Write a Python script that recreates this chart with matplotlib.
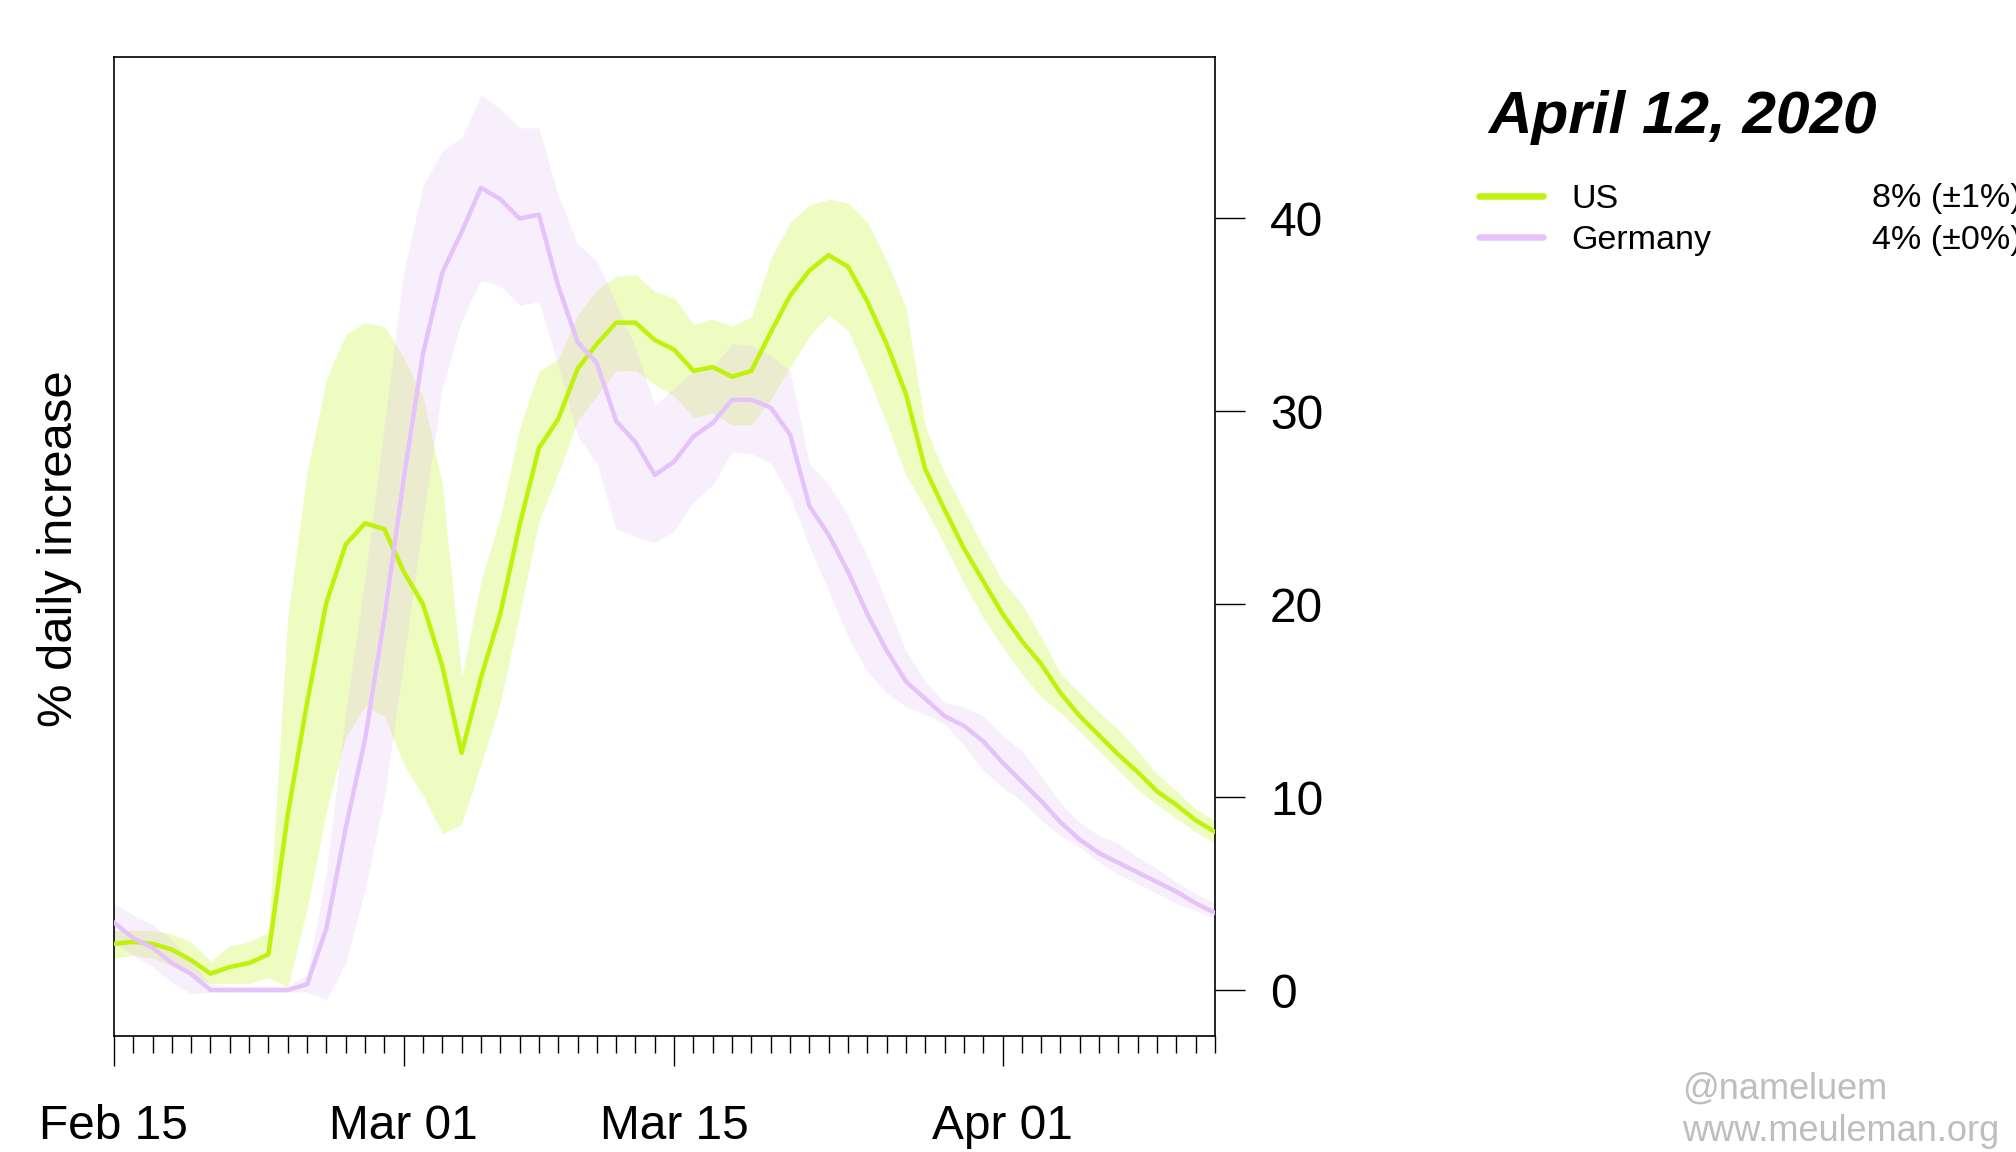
import numpy as np
import pandas as pd
import matplotlib
matplotlib.use('Agg')
import matplotlib.pyplot as plt
import matplotlib.dates as mdates
from matplotlib.lines import Line2D

plt.rcParams['font.family'] = ['Liberation Sans', 'DejaVu Sans']

# days from Feb 15 to Apr 12, 2020
dates = pd.date_range('2020-02-15', '2020-04-12', freq='D')

# US: % daily increase (line) and band
us = [2.4, 2.5, 2.4, 2.1, 1.55, 0.85, 1.2, 1.4, 1.85, 9.1,
      14.9, 20.1, 23.1, 24.2, 23.9, 21.7, 20.0, 16.8, 12.3, 16.2,
      19.5, 24.1, 28.1, 29.6, 32.2, 33.5, 34.6, 34.6, 33.7, 33.2,
      32.1, 32.3, 31.8, 32.1, 34.1, 36.0, 37.3, 38.1, 37.5, 35.7,
      33.5, 30.9, 27.0, 24.9, 22.9, 21.2, 19.5, 18.1, 16.9, 15.4,
      14.2, 13.2, 12.2, 11.3, 10.3, 9.6, 8.8, 8.2]
us_hi = [3.1, 3.1, 3.1, 2.9, 2.5, 1.5, 2.3, 2.5, 3.0, 19.3,
         26.8, 31.7, 34.0, 34.6, 34.4, 32.8, 30.8, 26.2, 16.2, 21.2,
         24.5, 29.1, 32.1, 32.7, 35.0, 36.3, 37.0, 37.1, 36.2, 35.9,
         34.5, 34.8, 34.4, 34.9, 37.9, 39.8, 40.7, 41.0, 40.8, 39.8,
         37.8, 35.4, 29.2, 26.8, 24.9, 23.0, 21.2, 20.0, 18.3, 16.4,
         15.4, 14.4, 13.5, 12.4, 11.2, 10.3, 9.4, 8.8]
us_lo = [1.65, 1.8, 1.65, 1.25, 0.76, 0.33, 0.33, 0.33, 0.66, 0.17,
         4.2, 9.3, 13.1, 14.7, 14.2, 11.7, 10.1, 8.1, 8.6, 11.7,
         14.9, 19.5, 24.3, 26.8, 29.5, 30.8, 32.1, 32.1, 31.4, 30.8,
         29.7, 29.9, 29.3, 29.3, 30.6, 32.3, 33.9, 35.0, 34.2, 31.9,
         29.4, 26.7, 25.0, 23.1, 21.1, 19.3, 17.8, 16.4, 15.2, 14.4,
         13.4, 12.4, 11.4, 10.4, 9.6, 8.9, 8.2, 7.6]

# Germany
de = [3.5, 2.7, 2.2, 1.4, 0.83, 0.0, 0.0, 0.0, 0.0, 0.0,
      0.3, 3.2, 8.4, 13.0, 19.3, 26.5, 33.0, 37.2, 39.3, 41.6,
      41.0, 40.0, 40.2, 36.5, 33.6, 32.5, 29.5, 28.4, 26.7, 27.4,
      28.7, 29.4, 30.6, 30.6, 30.2, 28.8, 25.1, 23.6, 21.7, 19.5,
      17.6, 16.0, 15.1, 14.2, 13.7, 12.9, 11.8, 10.8, 9.8, 8.7,
      7.8, 7.1, 6.6, 6.1, 5.6, 5.1, 4.5, 4.0]
de_hi = [4.5, 3.9, 3.4, 2.6, 1.5, 0.3, 0.2, 0.2, 0.2, 0.2,
         0.8, 6.1, 14.5, 21.3, 29.3, 37.2, 41.7, 43.5, 44.2, 46.4,
         45.7, 44.7, 44.7, 41.2, 38.7, 37.8, 35.6, 33.3, 30.3, 31.2,
         32.1, 32.3, 33.5, 33.4, 32.9, 32.1, 27.3, 26.2, 24.6, 22.5,
         20.1, 17.6, 16.0, 14.9, 14.7, 14.2, 13.2, 12.4, 11.1, 9.7,
         8.7, 8.0, 7.6, 6.9, 6.3, 5.6, 5.0, 4.5]
de_lo = [2.5, 1.8, 1.2, 0.4, -0.2, -0.1, -0.1, -0.1, -0.1, -0.1,
         -0.1, -0.5, 1.4, 5.2, 10.0, 17.0, 24.4, 31.2, 34.7, 36.8,
         36.5, 35.5, 35.7, 32.4, 28.7, 27.3, 23.9, 23.5, 23.2, 23.8,
         25.3, 26.2, 27.9, 27.8, 27.3, 25.6, 23.0, 20.7, 18.3, 16.5,
         15.4, 14.7, 14.3, 13.8, 12.7, 11.4, 10.5, 9.8, 8.8, 8.0,
         7.4, 6.6, 6.0, 5.5, 5.0, 4.5, 4.1, 3.7]

major_dates = ['2020-02-15', '2020-03-01', '2020-03-15', '2020-04-01']
major_labels = ['Feb 15', 'Mar 01', 'Mar 15', 'Apr 01']
y_ticks = [0, 10, 20, 30, 40]
legend_title = 'April 12, 2020'
names = ['US', 'Germany']
latest = ['8% (\u00b11%)', '4% (\u00b10%)']

green = '#bef20a'
purple = '#e6c2fb'

fig = plt.figure(figsize=(20.16, 11.52), dpi=100)
ax = fig.add_axes([0.0565, 0.1007, 0.5462, 0.8498])

ax.fill_between(dates, us_lo, us_hi, color=green, alpha=0.25, lw=0, zorder=1)
ax.fill_between(dates, de_lo, de_hi, color=purple, alpha=0.25, lw=0, zorder=1)
ax.plot(dates, us, color=green, lw=3.2, zorder=3)
ax.plot(dates, de, color=purple, lw=3.2, zorder=3)

ax.set_xlim(dates[0], dates[-1])
ax.set_ylim(-2.38, 48.37)

ax.set_xticks(pd.to_datetime(major_dates))
ax.set_xticklabels(major_labels)
ax.xaxis.set_minor_locator(mdates.DayLocator())
ax.tick_params(axis='x', which='major', length=21.6, width=1, pad=27.5,
               labelsize=34.5, direction='out')
ax.tick_params(axis='x', which='minor', length=12.5, width=1, direction='out')

ax.yaxis.tick_right()
ax.set_yticks(y_ticks)
ax.tick_params(axis='y', length=21.6, width=1, pad=18, labelsize=34.5)

for s in ax.spines.values():
    s.set_linewidth(1.2)

fig.text(60 / 2016, 1 - 549 / 1152, '% daily increase', rotation=90,
         ha='center', va='center', fontsize=35.3)

# legend
fig.text(1488 / 2016, 1 - 132.7 / 1152, legend_title, fontsize=43.4,
         fontweight='bold', fontstyle='italic', va='baseline')
for i, (nm, val, col) in enumerate(zip(names, latest, [green, purple])):
    yl = 1 - (196 + 41 * i) / 1152
    fig.add_artist(Line2D([1479 / 2016, 1543 / 2016], [yl, yl], color=col,
                          lw=4.7, solid_capstyle='round',
                          transform=fig.transFigure))
    yb = 1 - (207.5 + 41 * i) / 1152
    fig.text(1571 / 2016, yb, nm, fontsize=24.5, va='baseline')
    fig.text(1872 / 2016, yb, val, fontsize=24.5, va='baseline')

fig.text(1682 / 2016, 1 - 1099 / 1152, '@nameluem', fontsize=26,
         color='#bebebe', va='baseline')
fig.text(1682 / 2016, 1 - 1141 / 1152, 'www.meuleman.org', fontsize=26,
         color='#bebebe', va='baseline')

fig.savefig('out.png', dpi=100)
